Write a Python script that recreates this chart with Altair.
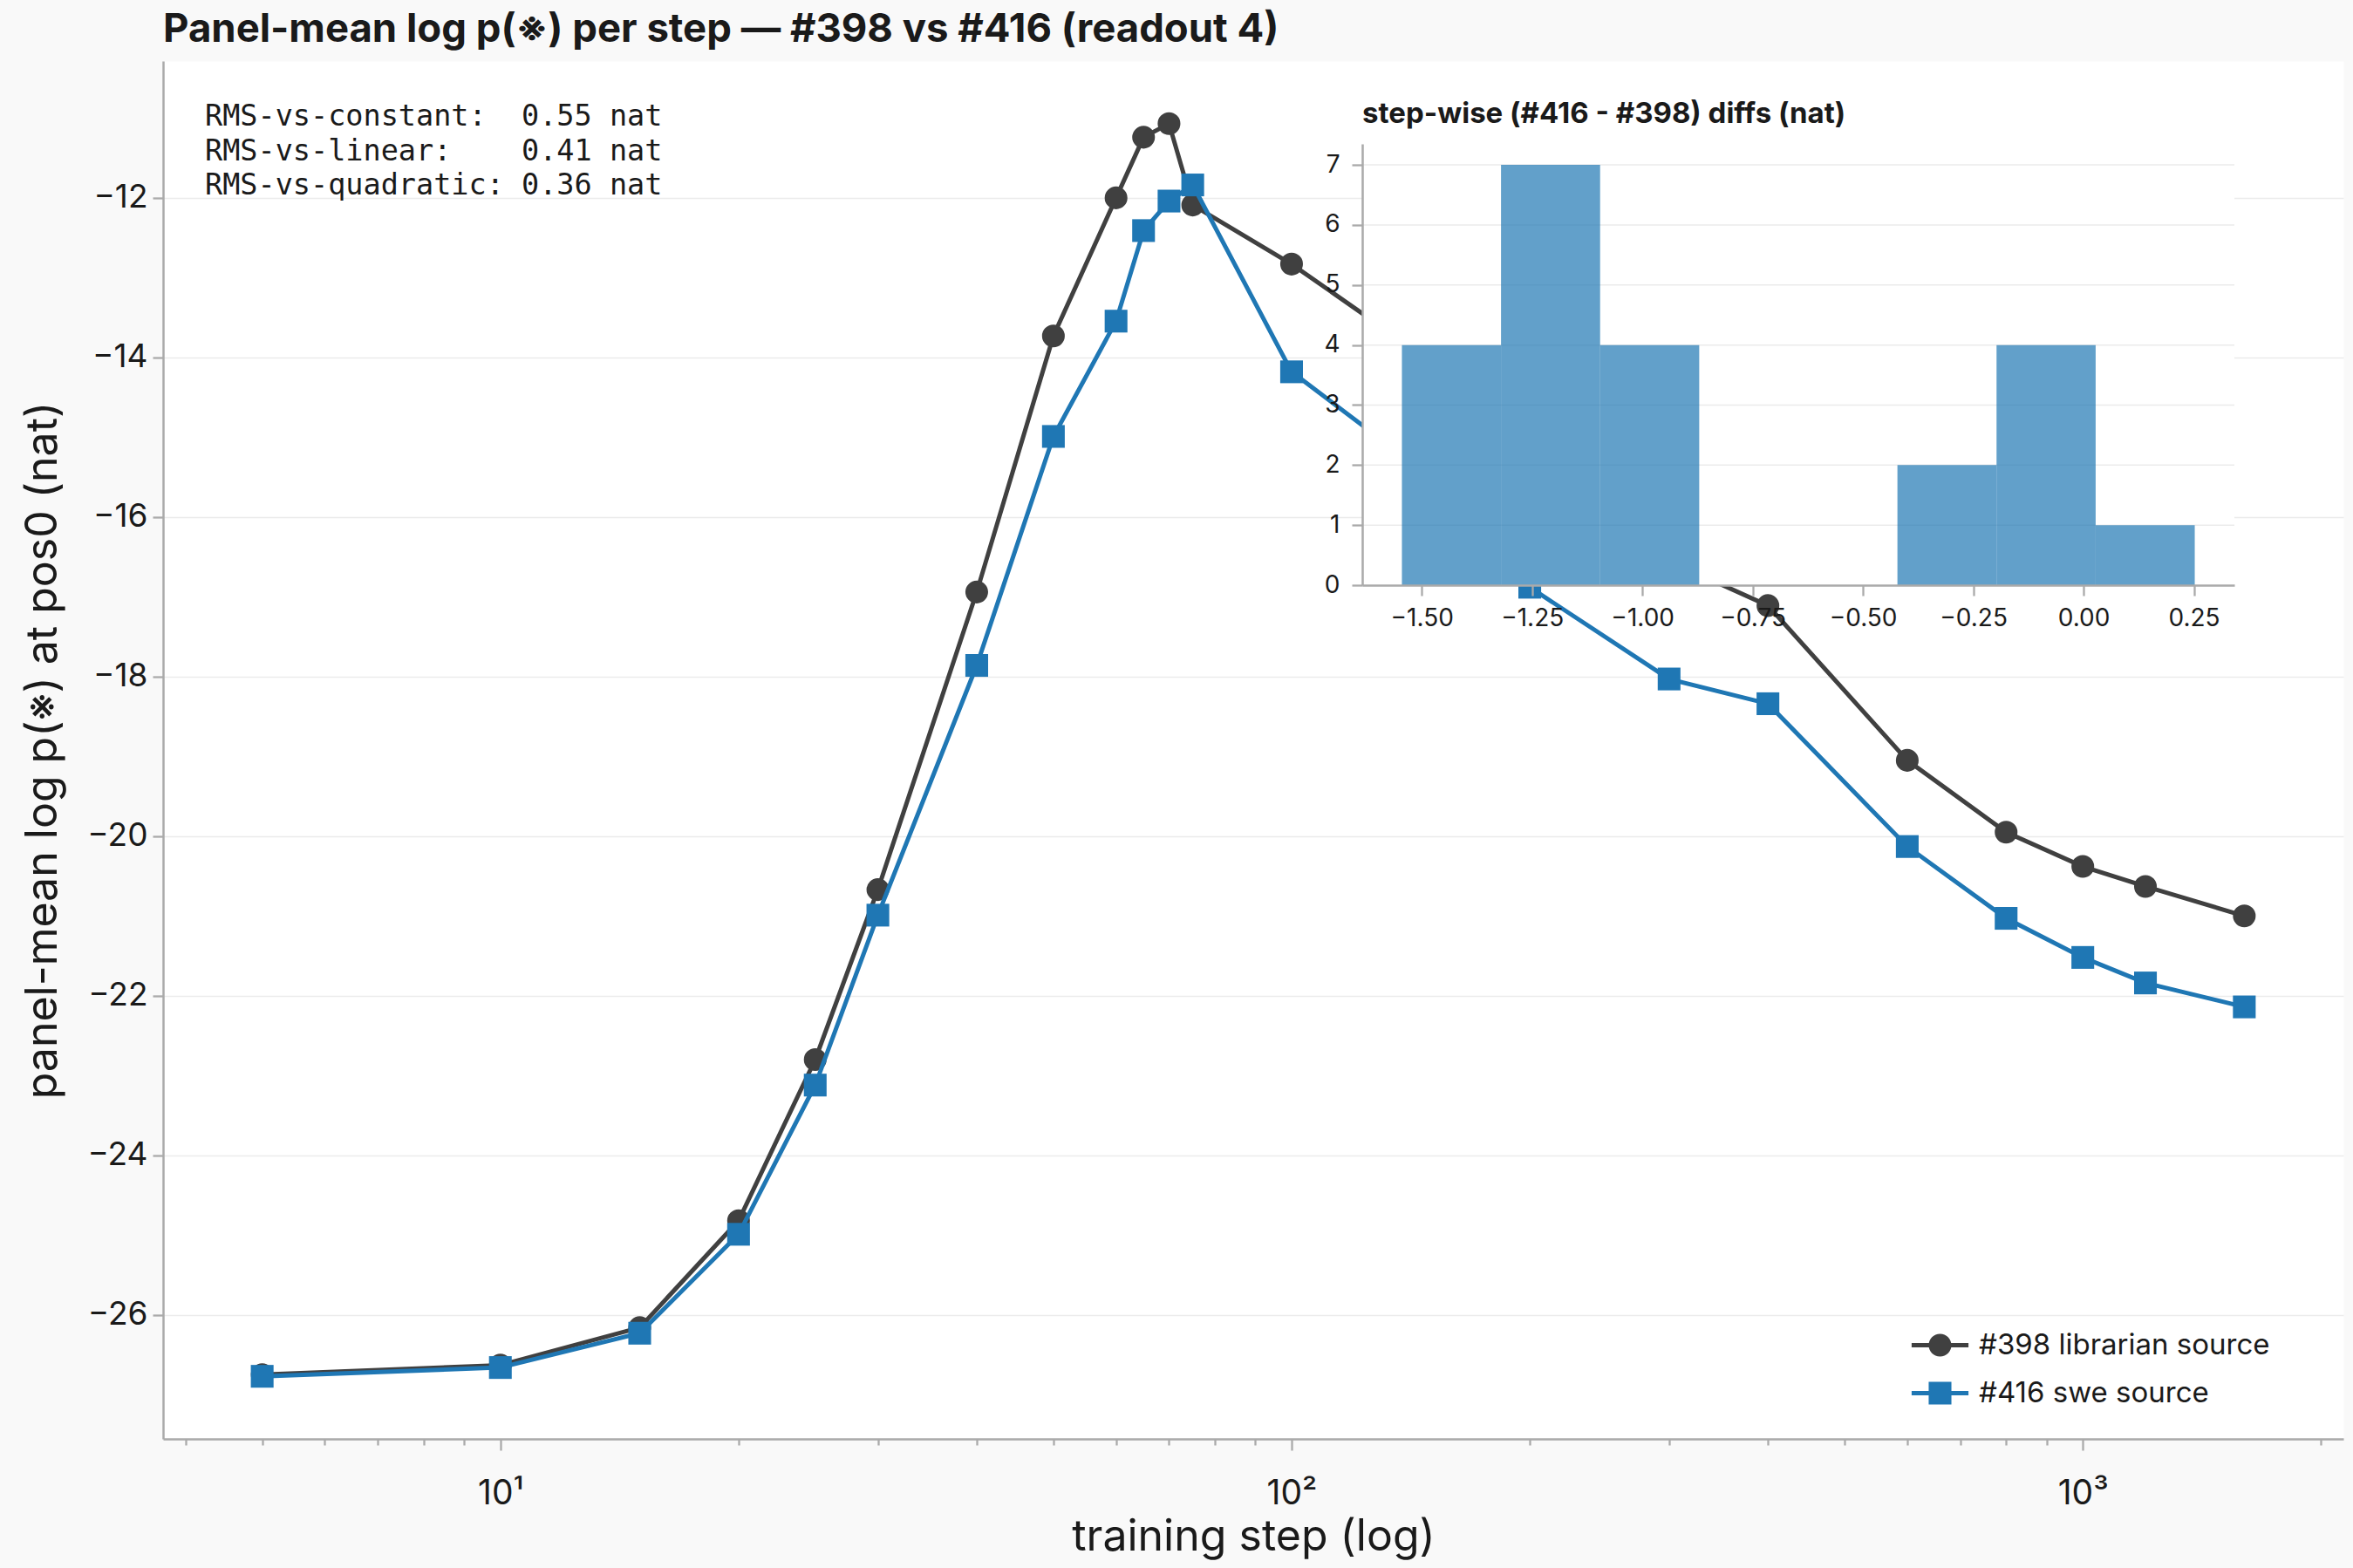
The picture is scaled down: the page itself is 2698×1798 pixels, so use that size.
import altair as alt
import numpy as np
import pandas as pd

FONT = "Inter, 'DejaVu Sans', 'Noto Sans CJK JP', sans-serif"
MONO = "'DejaVu Sans Mono', monospace"

# training steps shared by both runs
steps = [5, 10, 15, 20, 25, 30, 40, 50, 60, 65, 70, 75, 100, 150, 200,
         300, 400, 600, 800, 1000, 1200, 1600]
# panel-mean log p(※) at pos0, in nats
librarian_398 = [-26.75, -26.63, -26.16, -24.82, -22.80, -20.67, -16.94, -13.73,
                 -12.00, -11.24, -11.07, -12.09, -12.83, -14.05, -15.65, -16.55,
                 -17.11, -19.05, -19.95, -20.38, -20.63, -21.00]
swe_416 = [-26.77, -26.66, -26.23, -24.99, -23.12, -20.99, -17.86, -14.99,
           -13.545, -12.41, -12.04, -11.838, -14.18, -15.50, -16.88, -18.03,
           -18.34, -20.13, -21.03, -21.52, -21.84, -22.14]

series_names = ["#398 librarian source", "#416 swe source"]
series_colors = ["#404040", "#1f77b4"]

rms_lines = [
    "RMS-vs-constant:  0.55 nat",
    "RMS-vs-linear:    0.41 nat",
    "RMS-vs-quadratic: 0.36 nat",
]

y_ticks = [-26, -24, -22, -20, -18, -16, -14, -12]
x_ticks = [4, 5, 6, 7, 8, 9, 10, 20, 30, 40, 50, 60, 70, 80, 90,
           100, 200, 300, 400, 500, 600, 700, 800, 900, 1000, 2000]
hist_ticks = [-1.5, -1.25, -1.0, -0.75, -0.5, -0.25, 0.0, 0.25]
count_ticks = [0, 1, 2, 3, 4, 5, 6, 7]

main_title = "Panel-mean log p(\u203b) per step \u2014 #398 vs #416 (readout 4)"
inset_title = "step-wise (#416 - #398) diffs (nat)"

# ---- tables -------------------------------------------------------------
df = pd.DataFrame({
    "step": steps * 2,
    "logp": librarian_398 + swe_416,
    "series": [series_names[0]] * len(steps) + [series_names[1]] * len(steps),
})

diffs = np.array(swe_416) - np.array(librarian_398)
counts, edges = np.histogram(diffs, bins=8)
hist_df = pd.DataFrame({"bin_start": edges[:-1], "bin_end": edges[1:], "count": counts})
grid_df = pd.DataFrame({"count": count_ticks[1:]})
# SVG collapses runs of spaces, so the column padding uses no-break spaces
rms_df = pd.DataFrame({"t": ["\n".join(s.replace(" ", "\u00a0") for s in rms_lines)]})
inset_title_df = pd.DataFrame({"t": [inset_title]})

# ---- layout (pixels) ----------------------------------------------------
W, H = 2500, 1580
inset_left, inset_right = 1375, 2375
inset_top, inset_bottom = 95, 601

# matplotlib-style 5% margins
lx = np.log10([min(steps), max(steps)])
px = 0.05 * (lx[1] - lx[0])
x_domain = [10 ** (lx[0] - px), 10 ** (lx[1] + px)]
all_y = librarian_398 + swe_416
py = 0.05 * (max(all_y) - min(all_y))
y_domain = [min(all_y) - py, max(all_y) + py]
pd_ = 0.05 * (diffs.max() - diffs.min())
ix_domain = [float(diffs.min() - pd_), float(diffs.max() + pd_)]
iy_domain = [0, float(counts.max() * 1.05)]

GRID = "#ebebeb"
SPINE = "#aaaaaa"
TXT = "#1a1a1a"

x_axis = alt.Axis(
    values=x_ticks, grid=False, title="training step (log)",
    labelExpr="datum.value == 10 ? '10\u00b9' : datum.value == 100 ? '10\u00b2' : datum.value == 1000 ? '10\u00b3' : ''",
    labelOverlap=False, labelFlush=False, labelFontSize=39, labelPadding=30,
    tickSize={"condition": {"test": "datum.value == 10 || datum.value == 100 || datum.value == 1000", "value": 13}, "value": 7},
    titleFontSize=50, titleY=112, titleBaseline="middle",
)
y_axis = alt.Axis(
    values=y_ticks, grid=True, title="panel-mean log p(\u203b) at pos0 (nat)",
    labelFontSize=37, labelPadding=6, tickSize=12,
    titleFontSize=50, titleX=-138, titleY=H / 2, titleAngle=270,
    titleAlign="center", titleBaseline="middle",
)

x_enc = alt.X("step:Q", scale=alt.Scale(type="log", domain=x_domain, nice=False), axis=x_axis)
y_enc = alt.Y("logp:Q", scale=alt.Scale(domain=y_domain, nice=False, zero=False), axis=y_axis)

base = alt.Chart(df)

MARKER = 680


def run_layers(name, color, shape):
    sub = base.transform_filter(alt.datum.series == name)
    line = sub.mark_line(color=color, strokeWidth=5).encode(x=x_enc, y=y_enc)
    pts = sub.mark_point(shape=shape, filled=True, size=MARKER, color=color, opacity=1).encode(x=x_enc, y=y_enc)
    return [line, pts]


# legend glyphs: a line segment with the marker in the middle
circle_glyph = ("M-2.5,-0.19L2.5,-0.19L2.5,0.19L-2.5,0.19Z "
                "M1,0A1,1,0,1,1,-1,0A1,1,0,1,1,1,0Z")
square_glyph = ("M-2.5,-0.19L2.5,-0.19L2.5,0.19L-2.5,0.19Z "
                "M-1,-1L1,-1L1,1L-1,1Z")

legend = alt.Legend(
    title=None, orient="none", direction="vertical", legendX=2021, legendY=1456,
    padding=0, symbolSize=MARKER, symbolOpacity=1, symbolStrokeWidth=0,
    labelFont=FONT, labelFontSize=33, labelColor=TXT, labelOffset=28,
    rowPadding=21, labelLimit=0,
)
legend_layer = base.mark_point(filled=True, opacity=0, size=10).encode(
    x=x_enc, y=y_enc,
    color=alt.Color("series:N", scale=alt.Scale(domain=series_names, range=series_colors), legend=legend),
    shape=alt.Shape("series:N", scale=alt.Scale(domain=series_names, range=[circle_glyph, square_glyph]), legend=legend),
)

rms_text = alt.Chart(rms_df).mark_text(
    align="left", baseline="top", font=MONO, fontSize=33.5, lineBreak="\n",
    lineHeight=39.6, color=TXT,
).encode(text="t:N", x=alt.value(48), y=alt.value(48))

main = alt.layer(
    *run_layers(series_names[0], series_colors[0], "circle"),
    *run_layers(series_names[1], series_colors[1], "square"),
    legend_layer,
    rms_text,
)

# ---- inset histogram --------------------------------------------------------
ix_scale = alt.Scale(domain=ix_domain, range=[inset_left, inset_right], nice=False, zero=False)
iy_scale = alt.Scale(domain=iy_domain, range=[inset_bottom, inset_top], nice=False, zero=False)
ix_axis = alt.Axis(
    orient="bottom", offset=-(H - inset_bottom), values=hist_ticks, format=".2f",
    grid=False, title=None, labelFontSize=28, labelPadding=12, tickSize=12,
    labelFlush=False, labelOverlap=False, zindex=2,
)
iy_axis = alt.Axis(
    orient="left", offset=-inset_left, values=count_ticks, format="d",
    grid=False, title=None, labelFontSize=28, labelPadding=14, tickSize=12,
    labelFlush=False, labelOverlap=False, zindex=2,
)

inset_bg = alt.Chart(hist_df).mark_rect(color="white").encode(
    x=alt.X(datum=ix_domain[0], type="quantitative", scale=ix_scale, axis=ix_axis),
    x2=alt.datum(ix_domain[1]),
    y=alt.Y(datum=iy_domain[0], type="quantitative", scale=iy_scale, axis=iy_axis),
    y2=alt.datum(iy_domain[1]),
)
inset_grid = alt.Chart(grid_df).mark_rule(color=GRID, strokeWidth=1.5).encode(
    x=alt.X(datum=ix_domain[0], type="quantitative"),
    x2=alt.datum(ix_domain[1]),
    y=alt.Y("count:Q"),
)
inset_bars = alt.Chart(hist_df).mark_rect(color="#1f77b4", opacity=0.7).encode(
    x=alt.X("bin_start:Q"),
    x2="bin_end:Q",
    y=alt.Y("count:Q"),
    y2=alt.datum(0),
)
inset_label = alt.Chart(inset_title_df).mark_text(
    align="left", baseline="middle", font=FONT, fontSize=33, fontWeight="bold", color=TXT,
).encode(text="t:N", x=alt.value(inset_left), y=alt.value(61))

inset = alt.layer(inset_bg, inset_grid, inset_bars, inset_label)

chart = alt.layer(main, inset).resolve_scale(
    x="independent", y="independent", color="independent", shape="independent"
).properties(
    width=W, height=H,
    padding={"left": 187, "top": 70, "right": 11, "bottom": 148},
    autosize=alt.AutoSizeParams(type="none"),
    background="#f9f9f9",
    title=alt.TitleParams(
        text=main_title, anchor="start", frame="group", font=FONT, fontSize=45.5,
        fontWeight="bold", color=TXT, baseline="alphabetic", offset=22, dy=45,
    ),
).configure_view(
    fill="white", stroke="transparent",
).configure_axis(
    domainColor=SPINE, domainWidth=2.5, tickColor=SPINE, tickWidth=2.3,
    labelColor=TXT, labelFont=FONT, titleFont=FONT, titleColor=TXT,
    titleFontWeight="normal", gridColor=GRID, gridWidth=1.5,
)

chart.save("out.html", embed_options={"renderer": "svg", "actions": False})
